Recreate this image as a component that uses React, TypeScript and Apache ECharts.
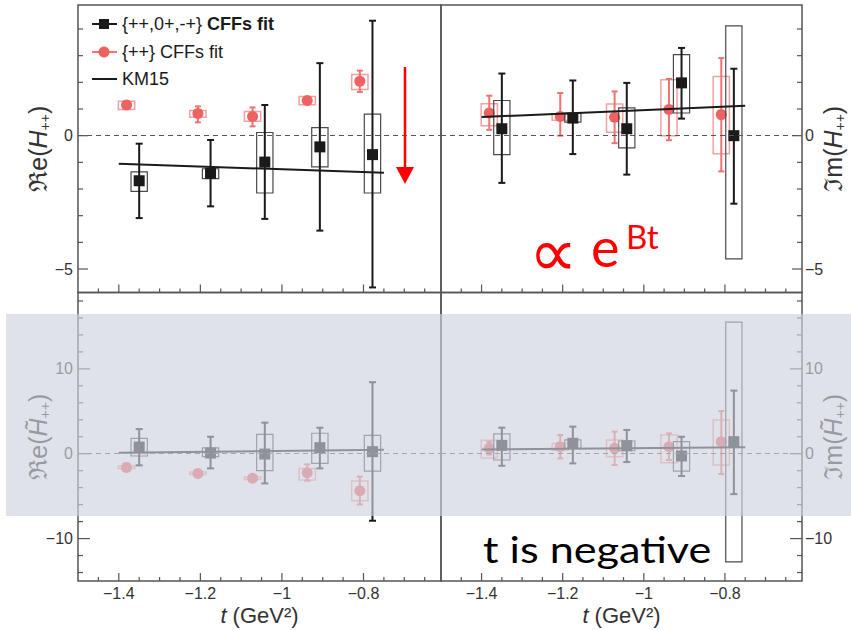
import React, { useEffect, useRef } from 'react';
import * as echarts from 'echarts';

// ---------- data (t in GeV^2) ----------
const tBlack = [-1.35, -1.175, -1.042, -0.907, -0.778];
const tRed = [-1.381, -1.206, -1.072, -0.938, -0.809];
const tKM15 = [-1.4, -0.75];

// Re(H++) — {++,0+,-+} fit
const reH_black = [-1.69, -1.41, -0.99, -0.42, -0.71];
const reH_black_errLo = [-3.09, -2.65, -3.12, -3.56, -5.69];
const reH_black_errHi = [-0.3, -0.16, 1.15, 2.72, 4.31];
const reH_black_boxLo = [-2.09, -1.61, -2.15, -1.17, -2.15];
const reH_black_boxHi = [-1.36, -1.24, 0.12, 0.3, 0.81];
// Re(H++) — {++} fit
const reH_red = [1.15, 0.83, 0.72, 1.32, 2.04];
const reH_red_errLo = [1.05, 0.5, 0.35, 1.22, 1.64];
const reH_red_errHi = [1.25, 1.1, 1.06, 1.4, 2.44];
const reH_red_boxLo = [0.98, 0.69, 0.54, 1.16, 1.73];
const reH_red_boxHi = [1.29, 0.94, 0.91, 1.47, 2.29];
const reH_km15 = [-1.05, -1.39];

// Im(H++)
const imH_black = [0.26, 0.66, 0.26, 1.98, 0.0];
const imH_black_errLo = [-1.77, -0.69, -1.46, 0.64, -2.55];
const imH_black_errHi = [2.33, 2.07, 1.98, 3.29, 2.51];
const imH_black_boxLo = [-0.71, 0.51, -0.46, 0.85, -4.62];
const imH_black_boxHi = [1.32, 0.85, 1.04, 3.04, 4.12];
const imH_red = [0.85, 0.72, 0.69, 0.98, 0.79];
const imH_red_errLo = [0.22, 0.0, -0.28, -0.17, -1.34];
const imH_red_errHi = [1.5, 1.6, 1.66, 2.13, 2.91];
const imH_red_boxLo = [0.37, 0.58, 0.13, 0.0, -0.68];
const imH_red_boxHi = [1.2, 0.8, 1.19, 2.1, 2.22];
const imH_km15 = [0.7, 1.12];

// Re(H~++)
const reHt_black = [0.79, 0.08, -0.04, 0.71, 0.24];
const reHt_black_errLo = [-1.37, -1.73, -3.5, -1.73, -7.9];
const reHt_black_errHi = [2.9, 2.0, 3.66, 3.07, 8.43];
const reHt_black_boxLo = [-0.27, -0.35, -2.0, -1.13, -2.04];
const reHt_black_boxHi = [1.82, 0.7, 2.29, 2.41, 2.17];
const reHt_red = [-1.61, -2.32, -2.9, -2.24, -4.36];
const reHt_red_errLo = [-1.85, -2.6, -3.15, -3.19, -5.98];
const reHt_red_errHi = [-1.35, -2.05, -2.65, -1.25, -2.71];
const reHt_red_boxLo = [-1.75, -2.45, -3.05, -3.1, -5.54];
const reHt_red_boxHi = [-1.45, -2.15, -2.75, -1.73, -3.22];
const reHt_km15 = [0.12, 0.47];

// Im(H~++)
const imHt_black = [0.99, 1.23, 0.95, -0.27, 1.42];
const imHt_black_errLo = [-1.42, -1.14, -0.98, -2.63, -4.76];
const imHt_black_errHi = [3.07, 3.19, 2.8, 2.0, 7.44];
const imHt_black_boxLo = [-0.74, 0.64, 0.35, -2.04, -12.75];
const imHt_black_boxHi = [2.33, 1.62, 1.5, 1.42, 15.5];
const imHt_red = [0.64, 0.83, 0.64, 0.83, 1.42];
const imHt_red_errLo = [-0.1, -0.55, -1.33, -0.75, -2.4];
const imHt_red_errHi = [1.4, 2.2, 2.6, 2.4, 5.04];
const imHt_red_boxLo = [-0.5, 0.4, -0.35, -1.06, -1.33];
const imHt_red_boxHi = [1.6, 1.2, 1.62, 2.2, 3.98];
const imHt_km15 = [0.51, 0.75];

// ---------- ticks ----------
const tMajorTicks = [-1.4, -1.2, -1.0, -0.8];
const tMinorTicks = [-1.45, -1.4, -1.35, -1.3, -1.25, -1.2, -1.15, -1.1, -1.05, -1.0, -0.95, -0.9, -0.85, -0.8, -0.75, -0.7, -0.65];
const topMajorTicks = [-5, 0];
const topMinorTicks = [-5, -4, -3, -2, -1, 0, 1, 2, 3, 4];
const botMajorTicks = [-10, 0, 10];
const botMinorTicks = [-14, -12, -10, -8, -6, -4, -2, 0, 2, 4, 6, 8, 10, 12, 14, 16, 18];

const FONT = "'Liberation Sans', Arial, Helvetica, sans-serif";
const BOX_HALF = 0.02;
const T_MIN = -1.5;
const T_MAX = -0.61;

const fmt = (v: number) => String(Math.round(v * 100) / 100).replace('-', '\u2212');

function renderErr(black: boolean) {
  return (_params: any, api: any) => {
    const t = api.value(0);
    const c = api.coord([t, api.value(1)]);
    const lo = api.coord([t, api.value(2)]);
    const hi = api.coord([t, api.value(3)]);
    const bl = api.coord([t - BOX_HALF, api.value(5)]);
    const br = api.coord([t + BOX_HALF, api.value(4)]);
    const errColor = black ? '#1a1a1a' : '#f07373';
    const boxColor = black ? '#4a4a4a' : '#f3a0a0';
    const cap = black ? 3.5 : 3;
    const children: any[] = [
      { type: 'rect', shape: { x: bl[0], y: bl[1], width: br[0] - bl[0], height: br[1] - bl[1] }, style: { fill: 'none', stroke: boxColor, lineWidth: black ? 1.2 : 1.5 } },
      { type: 'line', shape: { x1: c[0], y1: lo[1], x2: c[0], y2: hi[1] }, style: { stroke: errColor, lineWidth: 2 } },
      { type: 'line', shape: { x1: c[0] - cap, y1: lo[1], x2: c[0] + cap, y2: lo[1] }, style: { stroke: errColor, lineWidth: 2 } },
      { type: 'line', shape: { x1: c[0] - cap, y1: hi[1], x2: c[0] + cap, y2: hi[1] }, style: { stroke: errColor, lineWidth: 2 } },
      black
        ? { type: 'rect', shape: { x: c[0] - 5.5, y: c[1] - 5.5, width: 11, height: 11 }, style: { fill: '#1a1a1a' } }
        : { type: 'circle', shape: { cx: c[0], cy: c[1], r: 5.5 }, style: { fill: '#f06262' } },
    ];
    return { type: 'group', children };
  };
}

// tick marks drawn inside the frame through the axis scales
// item: [t, value, length, kind] kind 0 = x tick (bottom), 1 = y tick left, 2 = y tick right
function renderTick(params: any, api: any) {
  const cs = params.coordSys;
  const kind = api.value(3);
  const len = api.value(2);
  const style = { stroke: '#555', lineWidth: 1.2 };
  if (kind === 0) {
    const px = api.coord([api.value(0), 0])[0];
    const yb = cs.y + cs.height;
    return { type: 'line', shape: { x1: px, y1: yb, x2: px, y2: yb - len }, style };
  }
  const py = api.coord([-1, api.value(1)])[1];
  if (kind === 1) return { type: 'line', shape: { x1: cs.x, y1: py, x2: cs.x + len, y2: py }, style };
  const xr = cs.x + cs.width;
  return { type: 'line', shape: { x1: xr, y1: py, x2: xr - len, y2: py }, style };
}

const zip = (t: number[], y: number[], lo: number[], hi: number[], bLo: number[], bHi: number[]) =>
  t.map((tt, i) => [tt, y[i], lo[i], hi[i], bLo[i], bHi[i]]);

const panels = [
  {
    black: zip(tBlack, reH_black, reH_black_errLo, reH_black_errHi, reH_black_boxLo, reH_black_boxHi),
    red: zip(tRed, reH_red, reH_red_errLo, reH_red_errHi, reH_red_boxLo, reH_red_boxHi),
    km: reH_km15,
  },
  {
    black: zip(tBlack, imH_black, imH_black_errLo, imH_black_errHi, imH_black_boxLo, imH_black_boxHi),
    red: zip(tRed, imH_red, imH_red_errLo, imH_red_errHi, imH_red_boxLo, imH_red_boxHi),
    km: imH_km15,
  },
  {
    black: zip(tBlack, reHt_black, reHt_black_errLo, reHt_black_errHi, reHt_black_boxLo, reHt_black_boxHi),
    red: zip(tRed, reHt_red, reHt_red_errLo, reHt_red_errHi, reHt_red_boxLo, reHt_red_boxHi),
    km: reHt_km15,
  },
  {
    black: zip(tBlack, imHt_black, imHt_black_errLo, imHt_black_errHi, imHt_black_boxLo, imHt_black_boxHi),
    red: zip(tRed, imHt_red, imHt_red_errLo, imHt_red_errHi, imHt_red_boxLo, imHt_red_boxHi),
    km: imHt_km15,
  },
];

const yNames = [
  '{r|\u211Ce(}{i|H}{s|++}{r|)}',
  '{r|\u2111m(}{i|H}{s|++}{r|)}',
  '{r|\u211Ce(}{i|H\u0303}{s|++}{r|)}',
  '{r|\u2111m(}{i|H\u0303}{s|++}{r|)}',
];

const yNameRich = {
  r: { fontSize: 25, lineHeight: 28, fontFamily: FONT, color: '#333' },
  i: { fontSize: 25, lineHeight: 28, fontFamily: FONT, fontStyle: 'italic', color: '#333' },
  s: { fontSize: 14, lineHeight: 28, fontFamily: FONT, color: '#333', verticalAlign: 'bottom', padding: [11, 0, 0, 0] },
};
const xNameRich = {
  r: { fontSize: 22, lineHeight: 22, fontFamily: FONT, color: '#333' },
  i: { fontSize: 22, lineHeight: 22, fontFamily: FONT, fontStyle: 'italic', color: '#333' },
};

const grids = [
  { left: 78, top: 5, width: 363, height: 287.5 },
  { left: 441, top: 5, width: 361, height: 287.5 },
  { left: 78, top: 292.5, width: 363, height: 288.5 },
  { left: 441, top: 292.5, width: 361, height: 288.5 },
];

export default function App() {
  const ref = useRef<HTMLDivElement>(null);
  useEffect(() => {
    if (!ref.current) return;
    const chart = echarts.init(ref.current, undefined, { renderer: 'svg' });

    const xAxis: any[] = [];
    const yAxis: any[] = [];
    const series: any[] = [];

    grids.forEach((_g, gi) => {
      const isBottom = gi >= 2;
      const isRight = gi % 2 === 1;
      xAxis.push({
        type: 'value', gridIndex: gi, min: T_MIN, max: T_MAX, position: 'bottom',
        axisLine: { show: false, onZero: false }, splitLine: { show: false },
        axisTick: { show: false },
        axisLabel: { show: isBottom, customValues: tMajorTicks, formatter: fmt, fontSize: 16, color: '#333', fontFamily: FONT, margin: 4 },
        name: isBottom ? '{i|t}{r| (GeV\u00B2)}' : '',
        nameLocation: 'middle', nameGap: 23, nameMoveOverlap: false,
        nameTextStyle: { rich: xNameRich },
      });
      const yMin = isBottom ? -15 : -5.88;
      const yMax = isBottom ? 19 : 4.9;
      const major = isBottom ? botMajorTicks : topMajorTicks;
      const minor = isBottom ? botMinorTicks : topMinorTicks;
      yAxis.push({
        type: 'value', gridIndex: gi, min: yMin, max: yMax, position: isRight ? 'right' : 'left',
        axisLine: { show: false, onZero: false }, splitLine: { show: false },
        axisTick: { show: false },
        axisLabel: { show: true, customValues: major, formatter: fmt, fontSize: 16, color: '#333', fontFamily: FONT, margin: isRight ? 3 : 5 },
        name: yNames[gi], nameLocation: 'middle', nameRotate: 90, nameGap: isRight ? 17 : 26, nameMoveOverlap: false,
        nameTextStyle: { rich: yNameRich },
      });

      const p = panels[gi];
      const tickData: number[][] = [
        ...tMinorTicks.map((t) => [t, 0, tMajorTicks.includes(t) ? 8 : 4, 0]),
        ...minor.map((v) => [T_MIN, v, major.includes(v) ? (isBottom ? 12 : 10) : 5, isRight ? 2 : 1]),
      ];
      series.push({
        type: 'custom', xAxisIndex: gi, yAxisIndex: gi, z: 1, silent: true,
        data: tickData, renderItem: renderTick, encode: { x: 0, y: 1 },
      });
      series.push({
        type: 'line', xAxisIndex: gi, yAxisIndex: gi, data: [], z: 1,
        markLine: {
          silent: true, symbol: 'none', label: { show: false },
          lineStyle: { type: [5, 4], color: '#555', width: 1.2 },
          data: [{ yAxis: 0 }],
        },
      });
      series.push({
        type: 'custom', name: '{++} CFFs fit', xAxisIndex: gi, yAxisIndex: gi, z: 2,
        data: p.red, renderItem: renderErr(false),
      });
      series.push({
        type: 'custom', name: '{++,0+,-+} CFFs fit', xAxisIndex: gi, yAxisIndex: gi, z: 3,
        data: p.black, renderItem: renderErr(true),
      });
      series.push({
        type: 'line', name: 'KM15', xAxisIndex: gi, yAxisIndex: gi, z: 4,
        data: tKM15.map((t, i) => [t, p.km[i]]), symbol: 'none',
        lineStyle: { color: '#1a1a1a', width: 2 },
      });
    });

    const legendFont = { fontFamily: FONT, fontSize: 18, fill: '#1a1a1a', verticalAlign: 'middle' };

    const graphic: any[] = [
      // legend
      { type: 'line', shape: { x1: 92, y1: 24, x2: 117, y2: 24 }, style: { stroke: '#1a1a1a', lineWidth: 2 }, z: 20 },
      { type: 'rect', shape: { x: 99, y: 19, width: 10, height: 10 }, style: { fill: '#1a1a1a' }, z: 20 },
      { type: 'text', x: 122, y: 24, style: { ...legendFont, text: '{++,0+,-+}' }, z: 20 },
      { type: 'text', x: 207, y: 24, style: { ...legendFont, fontWeight: 'bold', text: 'CFFs fit' }, z: 20 },
      { type: 'line', shape: { x1: 92, y1: 52, x2: 117, y2: 52 }, style: { stroke: '#f07373', lineWidth: 2 }, z: 20 },
      { type: 'circle', shape: { cx: 104, cy: 52, r: 5.5 }, style: { fill: '#f06262' }, z: 20 },
      { type: 'text', x: 122, y: 52, style: { ...legendFont, text: '{++} CFFs fit' }, z: 20 },
      { type: 'line', shape: { x1: 92, y1: 79, x2: 117, y2: 79 }, style: { stroke: '#1a1a1a', lineWidth: 2 }, z: 20 },
      { type: 'text', x: 122, y: 79, style: { ...legendFont, text: 'KM15' }, z: 20 },
      // red arrow
      { type: 'line', shape: { x1: 405, y1: 67, x2: 405, y2: 170 }, style: { stroke: '#ff0000', lineWidth: 2.5 }, z: 20 },
      { type: 'polygon', shape: { points: [[396, 167], [414, 167], [405, 184]] }, style: { fill: '#ff0000' }, z: 20 },
      // proportional to e^Bt
      { type: 'text', x: 529, y: 252, style: { text: '\u221D', fontFamily: "'DejaVu Sans', sans-serif", fontSize: 68, fill: '#ff0000', verticalAlign: 'middle' }, z: 20 },
      { type: 'text', x: 591, y: 246, style: { text: 'e', fontFamily: 'Lato, sans-serif', fontSize: 54, fill: '#ff0000', verticalAlign: 'middle' }, z: 20 },
      { type: 'text', x: 626, y: 236, style: { text: 'Bt', fontFamily: 'Lato, sans-serif', fontSize: 33, fill: '#ff0000', verticalAlign: 'middle' }, z: 20 },
      // grey overlay over the lower band
      { type: 'rect', shape: { x: 6, y: 314, width: 845, height: 202 }, style: { fill: 'rgba(207,211,222,0.65)' }, z: 50 },
      // note
      { type: 'text', x: 483, y: 549, scaleX: 1.2, style: { text: 't is negative', fontFamily: 'Lato, sans-serif', fontSize: 36, fill: '#000', verticalAlign: 'middle' }, z: 60 },
    ];

    chart.setOption({
      animation: false,
      grid: grids.map((g) => ({ ...g, show: true, borderColor: '#555', borderWidth: 1.5, backgroundColor: 'transparent', containLabel: false, outerBoundsMode: 'none' })),
      xAxis,
      yAxis,
      series,
      graphic,
    });
    return () => chart.dispose();
  }, []);

  return <div ref={ref} style={{ position: 'fixed', left: 0, top: 0, width: 851, height: 630, background: '#fff' }} />;
}
